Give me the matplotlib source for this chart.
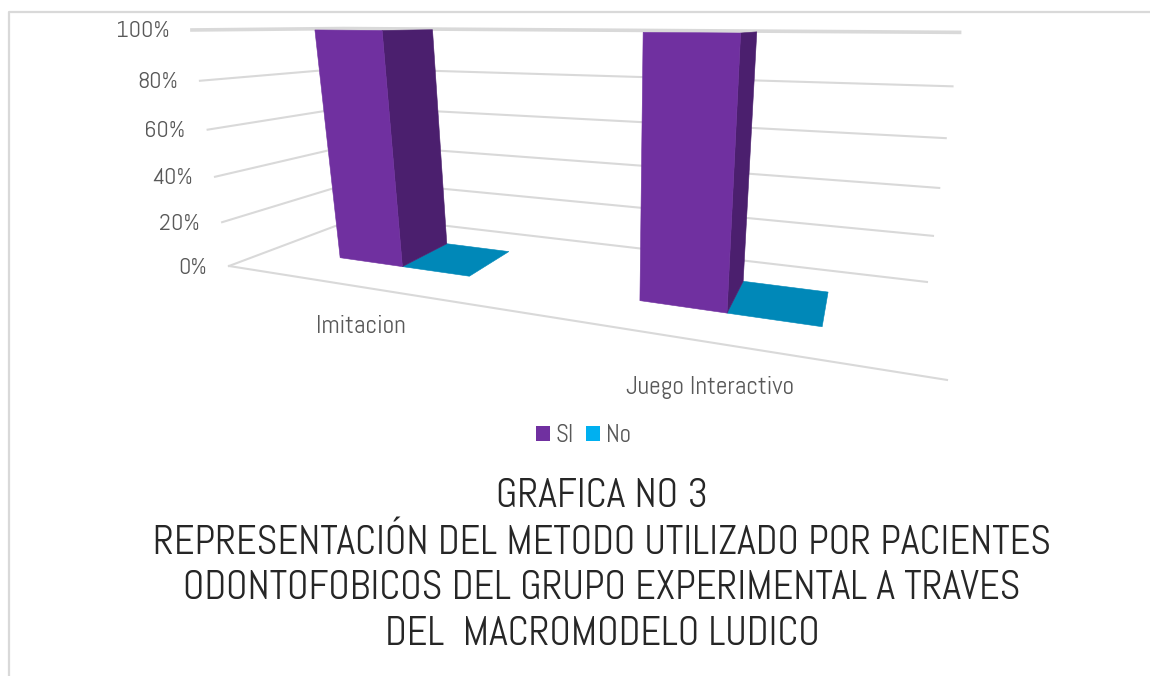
import numpy as np
import matplotlib
matplotlib.use('Agg')
import matplotlib.pyplot as plt
from matplotlib.patches import Polygon, Patch

# Datos de la grafica
categories = ["Imitacion", "Juego Interactivo"]
series_names = ["SI", "No"]
si_values = [100, 100]
no_values = [0, 0]
y_ticks = [0, 20, 40, 60, 80, 100]
title_lines = [
    "GRAFICA NO 3",
    "REPRESENTACIÓN DEL METODO UTILIZADO POR PACIENTES",
    "ODONTOFOBICOS DEL GRUPO EXPERIMENTAL A TRAVES",
    "DEL  MACROMODELO LUDICO",
]

plt.rcParams['font.family'] = ['Abel', 'Liberation Sans', 'DejaVu Sans']

TEXT = '#595959'
GRID = '#d9d9d9'

# Camara de la vista 3D: u = categorias, v = profundidad, z = valor (0-1)
CAM = np.array([
    [419.8, 227.0, 611 * -0.0884, 229.0],
    [-5.7, 6.1, 2700 * -0.0884, 266.0],
    [-0.3149, 0.2597, -0.0884, 1.0],
])
BAR_W = 0.118
DEPTH = (0.3, 0.7)
LABEL_DY = [39, 45]


def project(u, v, value):
    p = CAM @ np.array([u, v, value / 100.0, 1.0])
    return p[0] / p[2], p[1] / p[2]


def face(ax, corners, color):
    pts = [project(*c) for c in corners]
    ax.add_patch(Polygon(pts, closed=True, facecolor=color, edgecolor=color, linewidth=0.4, zorder=3))


fig = plt.figure(figsize=(11.5, 6.76), dpi=100)
ax = fig.add_axes([0, 0, 1, 1])
ax.set_xlim(0, 1150)
ax.set_ylim(676, 0)
ax.axis('off')

# marco de la imagen
ax.plot([9, 9, 1150], [676, 12, 12], color=GRID, linewidth=1.6, zorder=1)

# lineas de la rejilla sobre las paredes
for tick in y_ticks:
    pts = [project(0, 0, tick), project(0, 1, tick), project(1, 1, tick)]
    xs, ys = zip(*pts)
    ax.plot(xs, ys, color=GRID, linewidth=2.6 if tick == 100 else 1.5, zorder=2, solid_joinstyle='miter')
    ax.text(pts[0][0] - 22, pts[0][1] + 2, f"{tick}%", ha='right', va='center', fontsize=17.5, color=TEXT)

xs, ys = zip(project(0, 0, 0), project(1, 0, 0))
ax.plot(xs, ys, color=GRID, linewidth=1.5, zorder=2)

# barras
n_cat = len(categories)
for i, cat in enumerate(categories):
    center = (i + 0.5) / n_cat
    v0, v1 = DEPTH
    si = si_values[i]
    no = no_values[i]
    # No (solo se ve la cara superior cuando vale 0)
    face(ax, [(center, v0, no), (center + BAR_W, v0, no), (center + BAR_W, v1, no), (center, v1, no)], '#0088b8')
    # SI
    face(ax, [(center, v0, 0), (center, v1, 0), (center, v1, si), (center, v0, si)], '#4b1f6e')
    face(ax, [(center - BAR_W, v0, 0), (center, v0, 0), (center, v0, si), (center - BAR_W, v0, si)], '#7030a0')
    lx, ly = project(center, 0, 0)
    ax.text(lx - 2, ly + LABEL_DY[i], cat, ha='center', va='center', fontsize=18.4, color=TEXT)

handles = [Patch(facecolor='#7030a0', label=series_names[0]), Patch(facecolor='#00b0f0', label=series_names[1])]
ax.legend(handles=handles, loc='center', bbox_to_anchor=(583.5 / 1150, 1 - 436 / 676), ncol=2, frameon=False,
          fontsize=18, labelcolor=TEXT, handlelength=0.56, handleheight=0.56, handletextpad=0.22, columnspacing=0.5)

# titulo: el tamano se ajusta al ancho de la linea mas larga (898 px)
title = ax.text(602, 565.5, "\n".join(title_lines), ha='center', va='center', fontsize=27, color='#262626')
fig.canvas.draw()
width = title.get_window_extent().width
title.set_fontsize(27 * 898 / width)
title.set_linespacing(45.0 / (title.get_fontsize() * 100 / 72) * 1.2 * 0.962)

plt.savefig("out.png", dpi=100)
plt.close()
